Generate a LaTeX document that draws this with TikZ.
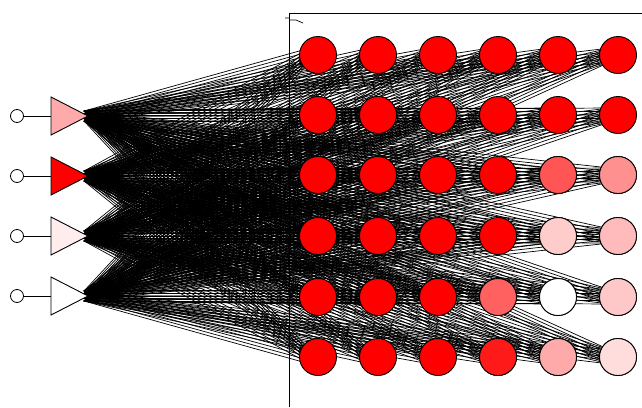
\documentclass[tikz,border=0pt]{standalone}
\usetikzlibrary{calc}
\pgfdeclarelayer{bg}
\pgfdeclarelayer{paper}
\pgfsetlayers{paper,bg,main}
\definecolor{cr}{RGB}{255,0,0}
\definecolor{cA}{RGB}{255,85,85}
\definecolor{cB}{RGB}{255,144,144}
\definecolor{cC}{RGB}{255,204,204}
\definecolor{cD}{RGB}{255,187,187}
\definecolor{cE}{RGB}{255,96,96}
\definecolor{cF}{RGB}{255,200,200}
\definecolor{cG}{RGB}{255,26,26}
\definecolor{cH}{RGB}{255,170,170}
\definecolor{cI}{RGB}{255,221,221}
\definecolor{tA}{RGB}{255,170,170}
\definecolor{tC}{RGB}{255,236,236}
\tikzset{
  unit/.style={circle,draw=black,line width=0.9pt,minimum size=37pt,inner sep=0pt,fill=#1},
  unit/.default=cr,
  incirc/.style={circle,draw=black,line width=0.8pt,minimum size=13pt,inner sep=0pt,fill=white},
  tri/.style={draw=black,line width=0.9pt},
  link/.style={draw=black,line width=0.7pt},
  frame/.style={draw=black,line width=1pt}
}
\begin{document}
\begin{tikzpicture}[x=1pt,y=-1pt]
\useasboundingbox (0,0) rectangle (642,407);
\begin{pgfonlayer}{paper}
\fill[white] (0,0) rectangle (642,407);
\end{pgfonlayer}
% frame
\coordinate (f1) at (289,13);
\coordinate (f2) at (642,13);
\coordinate (f3) at (289,407);
\draw[frame] (f2) -- (f1) -- (f3);
\coordinate (k1) at (285,18);
\coordinate (k2) at (296,20);
\coordinate (k3) at (303,23);
\draw[line width=0.7pt] (k1) -- (f1 |- k1) (f1 |- k2) -- (k2) -- (k3);
% grid of units
\foreach \r/\y in {1/55,2/115,3/175,4/236,5/297,6/357}{
  \foreach \c/\x in {1/318,2/378,3/438,4/498,5/558,6/618}{
    \node[unit] (n\r\c) at (\x,\y) {};
  }
}
\node[unit=cA] at (n35) {};
\node[unit=cB] at (n36) {};
\node[unit=cC] at (n45) {};
\node[unit=cD] at (n46) {};
\node[unit=cE] at (n54) {};
\node[unit=white] at (n55) {};
\node[unit=cF] at (n56) {};
\node[unit=cG] at (n64) {};
\node[unit=cH] at (n65) {};
\node[unit=cI] at (n66) {};
% input triangles
\foreach \i/\y/\col in {1/116/tA,2/176/cr,3/236/tC,4/296/white}{
  \coordinate (t\i) at (88,\y);
  \coordinate (tu\i) at (51,\y-19);
  \coordinate (tl\i) at (51,\y+19);
  \coordinate (tm\i) at (51,\y);
  \draw[tri,fill=\col] (tu\i) -- (t\i) -- (tl\i) -- cycle;
  \node[incirc] (i\i) at (17,\y) {};
  \draw[line width=0.9pt] (i\i) -- (tm\i);
}
% links
\begin{pgfonlayer}{bg}
\foreach \t in {1,2,3,4}{
  \foreach \r in {1,...,6}{
    \foreach \c in {1,...,6}{
      \foreach \s/\e in {-5/-7,-2.5/-3.5,0/0,2.5/3.5,5/7}{
        \draw[link] ($(t\t)+(-4,\s)$) -- ($(n\r\c)+(-8,\e)$);
      }
    }
  }
}
\end{pgfonlayer}
\end{tikzpicture}
\end{document}
